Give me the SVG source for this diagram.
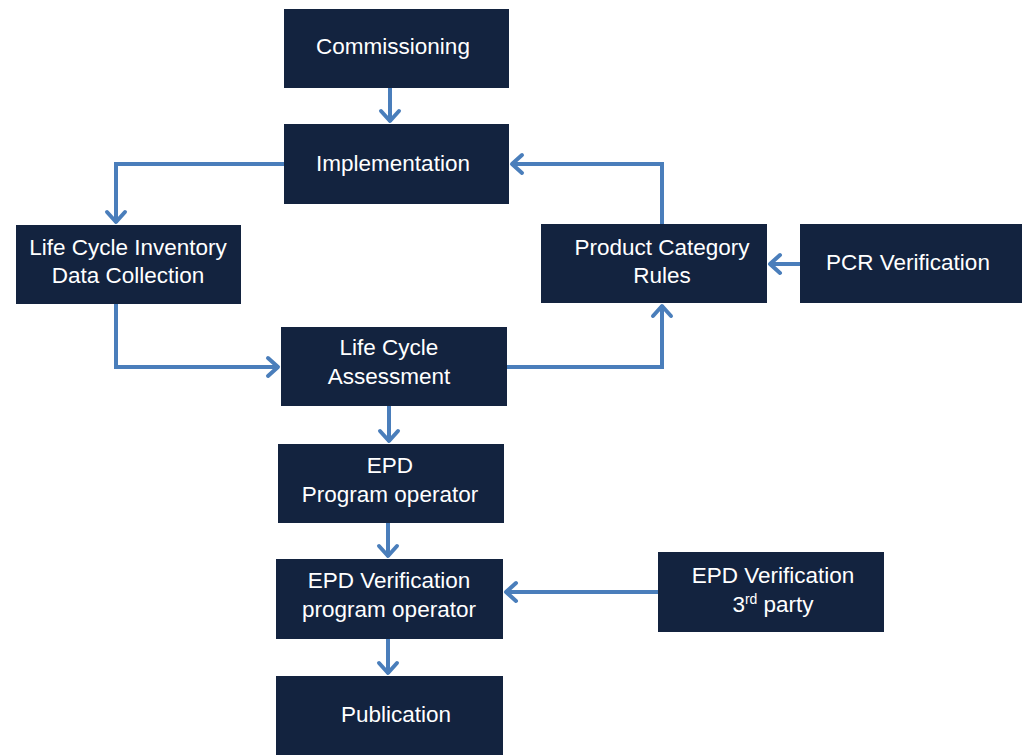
<svg xmlns="http://www.w3.org/2000/svg" width="1022" height="755" viewBox="0 0 1022 755">
<style>
.box{fill:#13233f;}
.t{font-family:"Liberation Sans",Arial,sans-serif;font-size:22.5px;fill:#ffffff;text-anchor:middle;}
.c{fill:none;stroke:#4a7ebb;stroke-width:4;}
</style>
<defs>
<marker id="ah" viewBox="-14 -12 16 24" markerWidth="16" markerHeight="24" refX="0" refY="0" orient="auto" markerUnits="userSpaceOnUse">
<path d="M-11,-9 L-1,0 L-11,9" fill="none" stroke="#4a7ebb" stroke-width="4" stroke-linecap="round" stroke-linejoin="round"/>
</marker>
</defs>
<rect width="1022" height="755" fill="#ffffff"/>
<g id="connectors">
<path class="c" d="M390,88 V122" marker-end="url(#ah)"/>
<path class="c" d="M284,164 H116 V223" marker-end="url(#ah)"/>
<path class="c" d="M116,304 V367 H279" marker-end="url(#ah)"/>
<path class="c" d="M507,367 H662 V305" marker-end="url(#ah)"/>
<path class="c" d="M662,224 V164 H511" marker-end="url(#ah)"/>
<path class="c" d="M800,264 H769" marker-end="url(#ah)"/>
<path class="c" d="M389,406 V442" marker-end="url(#ah)"/>
<path class="c" d="M388,523 V557" marker-end="url(#ah)"/>
<path class="c" d="M658,592 H505" marker-end="url(#ah)"/>
<path class="c" d="M388,639 V674" marker-end="url(#ah)"/>
</g>
<g id="commissioning"><rect class="box" x="284" y="9" width="225" height="79"/><text class="t" x="393" y="54">Commissioning</text></g>
<g id="implementation"><rect class="box" x="284" y="124" width="225" height="80"/><text class="t" x="393" y="171">Implementation</text></g>
<g id="lci"><rect class="box" x="16" y="225" width="225" height="79"/><text class="t" x="128" y="255">Life Cycle Inventory</text><text class="t" x="128" y="283">Data Collection</text></g>
<g id="pcr"><rect class="box" x="541" y="224" width="226" height="79"/><text class="t" x="662" y="255">Product Category</text><text class="t" x="662" y="283">Rules</text></g>
<g id="pcr-verification"><rect class="box" x="800" y="224" width="222" height="79"/><text class="t" x="908" y="270">PCR Verification</text></g>
<g id="lca"><rect class="box" x="281" y="327" width="226" height="79"/><text class="t" x="389" y="355">Life Cycle</text><text class="t" x="389" y="384">Assessment</text></g>
<g id="epd-program-operator"><rect class="box" x="278" y="444" width="226" height="79"/><text class="t" x="390" y="473">EPD</text><text class="t" x="390" y="502">Program operator</text></g>
<g id="epd-verification-po"><rect class="box" x="276" y="559" width="227" height="80"/><text class="t" x="389" y="588">EPD Verification</text><text class="t" x="389" y="617">program operator</text></g>
<g id="epd-verification-3rd"><rect class="box" x="658" y="552" width="226" height="80"/><text class="t" x="773" y="583">EPD Verification</text><text class="t" x="773" y="612">3<tspan font-size="14" dy="-8">rd</tspan><tspan dy="8"> party</tspan></text></g>
<g id="publication"><rect class="box" x="276" y="676" width="227" height="79"/><text class="t" x="396" y="722">Publication</text></g>
</svg>
